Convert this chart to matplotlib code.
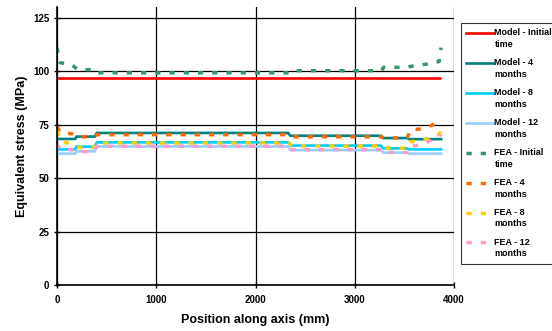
import matplotlib
matplotlib.use("Agg")
import matplotlib.pyplot as plt
from matplotlib.lines import Line2D
from matplotlib.legend_handler import HandlerLine2D

plt.rcParams['font.family'] = ['Liberation Sans', 'DejaVu Sans']
plt.rcParams['font.weight'] = 'bold'

# Model (solid) series
model_x = [0, 185, 195, 380, 400, 2330, 2350, 3265, 3285, 3525, 3545, 3870]
model_init_x = [0, 3870]
model_init = [97, 97]
model_4 = [68.3, 68.3, 69.4, 69.4, 71.1, 71.1, 69.8, 69.8, 68.7, 68.7, 68.2, 68.2]
model_8 = [63.4, 63.4, 64.7, 64.7, 66.7, 66.7, 65.2, 65.2, 63.9, 63.9, 63.4, 63.4]
model_12 = [61.4, 61.4, 62.5, 62.5, 64.8, 64.8, 63.1, 63.1, 61.9, 61.9, 61.4, 61.4]

# FEA (dashed) series
fea_x = [0, 30, 150, 210, 370, 400, 2340, 2360, 3270, 3290, 3530, 3560, 3680, 3770, 3850, 3870]
fea_init = [111, 104, 103, 100.7, 100.7, 99.2, 99.2, 100.2, 100.2, 101.8, 101.8, 102.2, 103, 103.6, 104.5, 111]
fea_4 = [74, 71.5, 70.7, 69.3, 69.3, 70.3, 70.3, 69.3, 69.3, 68.8, 68.8, 72.6, 73, 74.6, 76.5, 77.5]
fea_8 = [72, 67.5, 65.7, 64.3, 64.3, 66.4, 66.4, 65.0, 65.0, 64.0, 64.0, 67.0, 67.5, 69.3, 70.5, 72]
fea_12 = [66, 63.5, 63.2, 62.4, 62.4, 64.9, 64.9, 63.3, 63.3, 62.0, 62.0, 65.0, 65.5, 67.8, 69.5, 70.5]

labels = ["Model - Initial\ntime", "Model - 4\nmonths", "Model - 8\nmonths", "Model - 12\nmonths",
          "FEA - Initial\ntime", "FEA - 4\nmonths", "FEA - 8\nmonths", "FEA - 12\nmonths"]
colors = ["#FF0000", "#008080", "#00CCFF", "#99CCFF", "#339966", "#FF6600", "#FFCC00", "#FF99CC"]

xticks = [0, 1000, 2000, 3000, 4000]
yticks = [0, 25, 50, 75, 100, 125]


class TopHandler(HandlerLine2D):
    def create_artists(self, legend, orig_handle, xdescent, ydescent,
                       width, height, fontsize, trans):
        arts = super().create_artists(legend, orig_handle, xdescent, ydescent,
                                      width, height, fontsize, trans)
        for a in arts:
            a.set_ydata([y + height * 0.95 for y in a.get_ydata()])
        return arts


fig = plt.figure(figsize=(5.52, 3.31), dpi=100)
ax = fig.add_axes([57/552, 1-285/331, (454-57)/552, (285-7)/331])

ax.set_xlim(0, 4000)
ax.set_ylim(0, 130)
ax.set_xticks(xticks)
ax.set_yticks(yticks)
ax.grid(True, color='black', linewidth=0.9)
ax.set_axisbelow(True)
for s in ['top', 'right']:
    ax.spines[s].set_visible(False)
for s in ['left', 'bottom']:
    ax.spines[s].set_linewidth(1.2)
ax.tick_params(direction='inout', length=5, width=1, labelsize=7, pad=3)
ax.tick_params(axis='x', pad=5)
for lab in ax.get_xticklabels() + ax.get_yticklabels():
    lab.set_fontweight('bold')

lw_m = 1.9
ax.plot(model_init_x, model_init, color=colors[0], lw=lw_m, solid_capstyle='butt')
ax.plot(model_x, model_4, color=colors[1], lw=lw_m)
ax.plot(model_x, model_8, color=colors[2], lw=lw_m)
ax.plot(model_x, model_12, color=colors[3], lw=lw_m)

dash = (1.5, 2.6)
lw_f = 2.5
for ys, c in zip([fea_init, fea_4, fea_8, fea_12], colors[4:]):
    ax.plot(fea_x, ys, color=c, lw=lw_f, linestyle=(0, dash), dash_capstyle='butt')

ax.set_xlabel("Position along axis (mm)", fontsize=9, fontweight='bold', labelpad=6.5)
ax.set_ylabel("Equivalent stress (MPa)", fontsize=9, fontweight='bold', labelpad=4)

handles = []
for i, c in enumerate(colors):
    if i < 4:
        handles.append(Line2D([], [], color=c, lw=lw_m))
    else:
        handles.append(Line2D([], [], color=c, lw=lw_f, linestyle=(0, dash), dash_capstyle='butt'))

leg = fig.legend(handles, labels, loc='upper left', bbox_to_anchor=(461/552, 1-23/331),
                 prop={'size': 6.5, 'weight': 'bold'}, frameon=True, fancybox=False,
                 edgecolor='black', handlelength=2.9, labelspacing=1.05, borderpad=0.6,
                 handletextpad=0.2, borderaxespad=0,
                 handler_map={Line2D: TopHandler()})
for t in leg.get_texts():
    t.set_linespacing(1.35)
leg.get_frame().set_linewidth(0.8)

fig.savefig("out.png", dpi=100)
